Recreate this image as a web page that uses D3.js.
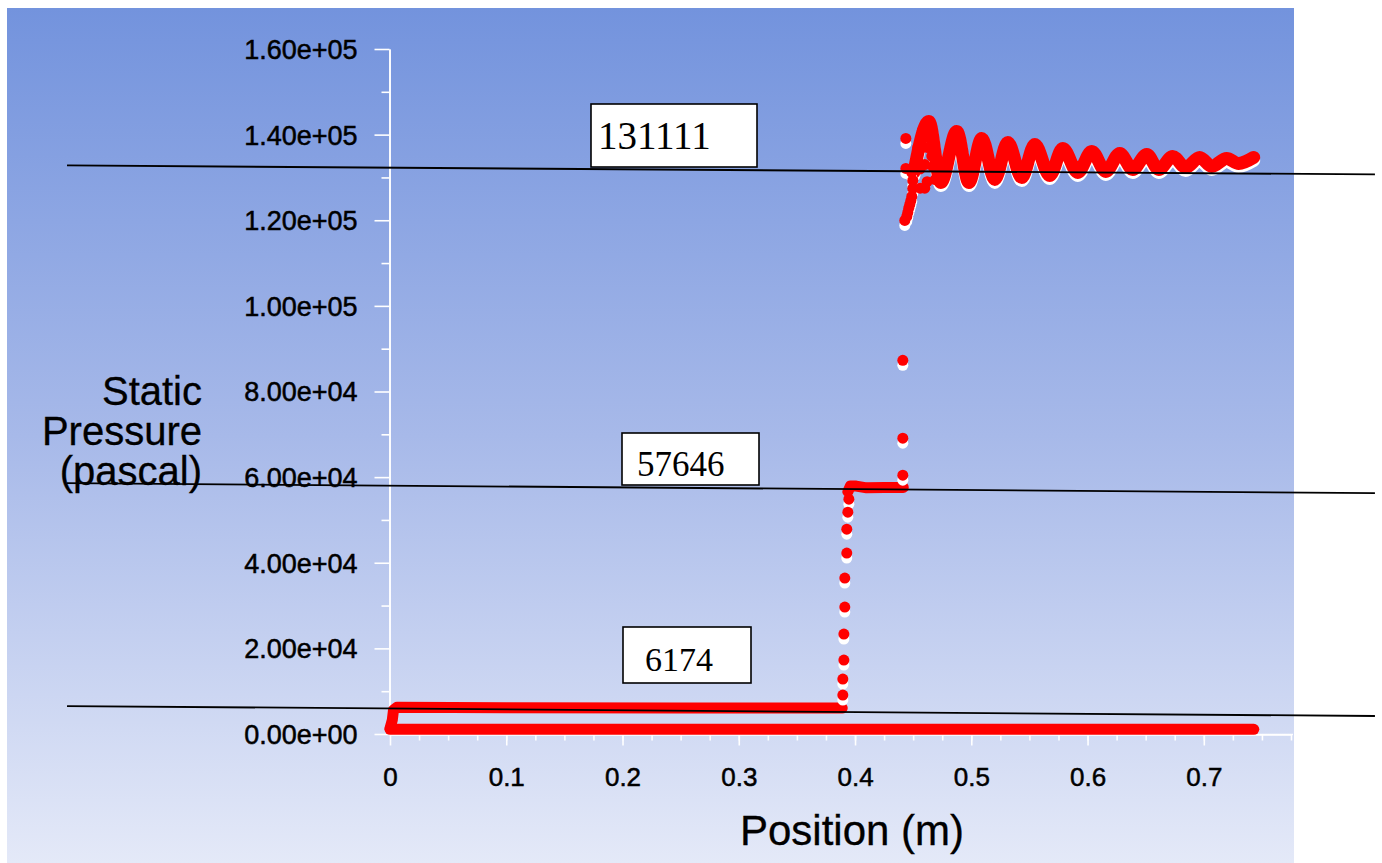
<!DOCTYPE html>
<html>
<head>
<meta charset="utf-8">
<script src="https://cdn.jsdelivr.net/npm/d3@7"></script>
<style>
  html, body { margin: 0; padding: 0; background: #fff; overflow: hidden; }
  text { font-family: "Liberation Sans", Arial, sans-serif; fill: #000; }
  .heavy { stroke: #000; stroke-width: 0.5px; }
</style>
</head>
<body>
<div id="chart"></div>
<script>
// axis ticks
const yTicks = [0, 20000, 40000, 60000, 80000, 100000, 120000, 140000, 160000];
const yTickLabels = ['0.00e+00', '2.00e+04', '4.00e+04', '6.00e+04', '8.00e+04',
  '1.00e+05', '1.20e+05', '1.40e+05', '1.60e+05'];
const xTicks = [0, 0.1, 0.2, 0.3, 0.4, 0.5, 0.6, 0.7];
const xTickLabels = ['0', '0.1', '0.2', '0.3', '0.4', '0.5', '0.6', '0.7'];

// static pressure: [position (m), pressure (Pa)]
const lowBand = [[0.000, 1100], [0.743, 1100]];
const upperBand = [[0.000, 1300], [0.002, 3300], [0.003, 5600], [0.006, 6250], [0.100, 6150],
  [0.250, 6100], [0.389, 6050]];
const step1 = [[0.3895, 9100], [0.3895, 12840], [0.3904, 17270], [0.3904, 23340],
  [0.3912, 29640], [0.3912, 36410], [0.3929, 42250], [0.3929, 47850], [0.3938, 51810],
  [0.3947, 54850]];
const plateau = [[0.3938, 56600], [0.3960, 57900], [0.4010, 57900], [0.4100, 57500],
  [0.4250, 57600], [0.4415, 57600]];
const step2 = [[0.4411, 60450], [0.4411, 69090], [0.4411, 87290], [0.4428, 119970],
  [0.4445, 120900], [0.4454, 121830], [0.4462, 122800], [0.4471, 123700], [0.4480, 124600],
  [0.4488, 125570], [0.4497, 127440], [0.4497, 129300], [0.4488, 131170], [0.4437, 132100],
  [0.4437, 139110]];
const blob = [[0.4540, 137000], [0.4560, 132000], [0.4600, 127500], [0.4660, 135000],
  [0.4690, 129500], [0.4580, 141000], [0.4580, 137000], [0.4600, 133000], [0.4620, 129000],
  [0.4650, 139500], [0.4670, 132500], [0.4560, 127500], [0.4620, 137000]];
const wave = [[0.4506, 131170], [0.4635, 143070], [0.4738, 128840], [0.4875, 140740],
  [0.4979, 128840], [0.5090, 139110], [0.5202, 129540], [0.5314, 138170], [0.5434, 130000],
  [0.5546, 137710], [0.5675, 130470], [0.5787, 136770], [0.5916, 131170], [0.6036, 136070],
  [0.6157, 131410], [0.6277, 135600], [0.6389, 131870], [0.6509, 135370], [0.6612, 131870],
  [0.6733, 134900], [0.6844, 132340], [0.6965, 134670], [0.7068, 132570], [0.7197, 134430],
  [0.7300, 133270], [0.7429, 134670]];

// hand-drawn reference lines: label, pressure at left end, pressure at right end
const refLabels = ['131111', '57646', '6174'];
const refLeft = [132800, 58600, 6530];
const refRight = [130700, 56250, 4200];

const W = 1382, H = 863;
const svg = d3.select('#chart').append('svg')
  .attr('width', W).attr('height', H);

const defs = svg.append('defs');
const bg = defs.append('linearGradient').attr('id', 'bg')
  .attr('x1', 0).attr('y1', 0).attr('x2', 0).attr('y2', 1);
bg.append('stop').attr('offset', '0%').attr('stop-color', '#7393dd');
bg.append('stop').attr('offset', '50%').attr('stop-color', '#a7b9e9');
bg.append('stop').attr('offset', '100%').attr('stop-color', '#e4e9f8');

svg.append('rect')
  .attr('x', 7).attr('y', 8).attr('width', 1287).attr('height', 855)
  .attr('fill', 'url(#bg)');

const x = d3.scaleLinear().domain([0, 0.775]).range([390, 1291]);
const y = d3.scaleLinear().domain([0, 160000]).range([734, 49]);

// axes
svg.append('g').attr('transform', 'translate(389.5,0)')
  .call(d3.axisLeft(y).tickValues(d3.range(10000, 160000, 20000)).tickSize(8).tickSizeOuter(0).tickFormat(''));
const yAxis = svg.append('g').attr('transform', 'translate(389.5,0)')
  .call(d3.axisLeft(y).tickValues(yTicks).tickSize(15).tickSizeOuter(0).tickPadding(17)
    .tickFormat((d, i) => yTickLabels[i]));
yAxis.selectAll('text').attr('font-size', 27).attr('dy', '0.35em')
  .attr('stroke', '#000').attr('stroke-width', 0.5)
  .style('font-family', '"Liberation Sans", Arial, sans-serif');

svg.append('g').attr('transform', 'translate(0,734.5)')
  .call(d3.axisBottom(x).tickValues(d3.range(0.025, 0.776, 0.025)).tickSize(6).tickSizeOuter(0).tickFormat(''));
const xAxis = svg.append('g').attr('transform', 'translate(0,734.5)')
  .call(d3.axisBottom(x).tickValues(xTicks).tickSize(11).tickSizeOuter(0).tickPadding(22)
    .tickFormat((d, i) => xTickLabels[i]));
xAxis.selectAll('text').attr('font-size', 26)
  .attr('stroke', '#000').attr('stroke-width', 0.5)
  .style('font-family', '"Liberation Sans", Arial, sans-serif');

svg.selectAll('.domain').attr('stroke', '#fff').attr('stroke-width', 1.6);
svg.selectAll('.tick line').attr('stroke', '#fff').attr('stroke-width', 1.6);
xAxis.select('.domain').attr('d', 'M389,0H1293');

// axis titles
svg.append('text').attr('x', 852).attr('y', 845).attr('text-anchor', 'middle')
  .attr('font-size', 42).attr('class', 'heavy').style('stroke-width', '0.3px').text('Position (m)');
const yTitle = svg.append('text').attr('text-anchor', 'end').attr('font-size', 40)
  .attr('class', 'heavy').style('stroke-width', '0.3px');
['Static', 'Pressure', '(pascal)'].forEach((t, i) => {
  yTitle.append('tspan').attr('x', 202).attr('y', 405 + i * 40).text(t);
});

// data
const plot = svg.append('g');
const line = d3.line().x(d => x(d[0])).y(d => y(d[1]));
const waveLine = d3.line().x(d => x(d[0])).y(d => y(d[1])).curve(d3.curveMonotoneX);

function band(data, gen, shadow, sw) {
  if (shadow) {
    plot.append('path').attr('d', gen(data)).attr('transform', 'translate(0,3)')
      .attr('fill', 'none').attr('stroke', '#fff').attr('stroke-width', sw)
      .attr('stroke-linecap', 'round').attr('stroke-linejoin', 'round');
  }
  plot.append('path').attr('d', gen(data))
    .attr('fill', 'none').attr('stroke', '#ff0000').attr('stroke-width', sw)
    .attr('stroke-linecap', 'round').attr('stroke-linejoin', 'round');
}

function dots(data, shadow) {
  if (shadow) {
    plot.append('g').selectAll('circle').data(data).join('circle')
      .attr('cx', d => x(d[0])).attr('cy', d => y(d[1]) + 5).attr('r', 5.5).attr('fill', '#fff');
  }
  plot.append('g').selectAll('circle').data(data).join('circle')
    .attr('cx', d => x(d[0])).attr('cy', d => y(d[1])).attr('r', 5.5).attr('fill', '#ff0000');
}

band(lowBand, line, false, 11);
band(upperBand, line, false, 11);
dots(step1, true);
band(plateau, line, false, 11);
band(wave, waveLine, true, 13);
dots(step2, true);
dots(blob, false);

// reference lines and labels
const xl = -0.2778, xr = 0.8472;
refLabels.forEach((lab, i) => {
  svg.append('line')
    .attr('x1', x(xl)).attr('y1', y(refLeft[i]))
    .attr('x2', x(xr)).attr('y2', y(refRight[i]))
    .attr('stroke', '#000').attr('stroke-width', 1.8);
});

const boxes = [
  { x: 591, y: 104, w: 166, h: 63, tx: 598, ty: 149, fs: 39 },
  { x: 622, y: 433, w: 137, h: 52, tx: 637, ty: 476, fs: 35 },
  { x: 623, y: 627, w: 128, h: 56, tx: 645, ty: 671, fs: 34 }
];
boxes.forEach((b, i) => {
  svg.append('rect').attr('x', b.x).attr('y', b.y).attr('width', b.w).attr('height', b.h)
    .attr('fill', '#fff').attr('stroke', '#000').attr('stroke-width', 1.6);
  svg.append('text').attr('x', b.tx).attr('y', b.ty).attr('font-size', b.fs)
    .style('font-family', '"Liberation Serif", "Times New Roman", serif')
    .text(refLabels[i]);
});
</script>
</body>
</html>
